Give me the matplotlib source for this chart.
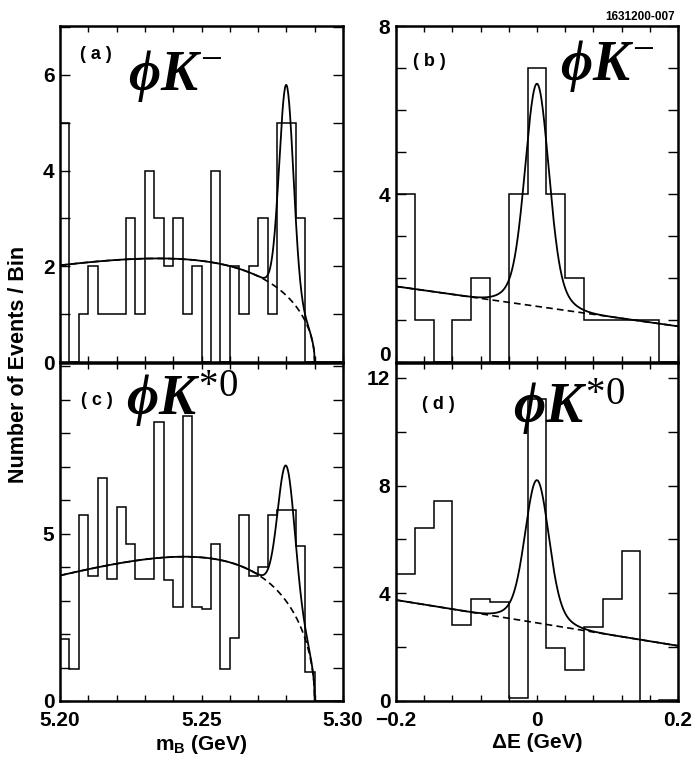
import numpy as np
import matplotlib
matplotlib.use("Agg")
import matplotlib.pyplot as plt
from matplotlib.ticker import MultipleLocator, FixedLocator
from matplotlib.transforms import ScaledTranslation

plt.rcParams['font.family'] = ['Liberation Sans', 'DejaVu Sans']
plt.rcParams['mathtext.fontset'] = 'custom'
plt.rcParams['mathtext.it'] = 'Liberation Serif:italic:bold'
plt.rcParams['mathtext.rm'] = 'Liberation Serif'
plt.rcParams['axes.unicode_minus'] = True

# histogram contents
mb_range = (5.20, 5.30)
de_range = (-0.2, 0.2)
mb_nbins = 30
de_nbins = 15

a_counts = [5, 0, 1, 2, 1, 1, 1, 3, 1, 4, 3, 2, 3, 1, 2, 0, 4, 0, 2, 1,
            2, 3, 1, 5, 5, 3, 0, 0, 0, 0]
b_counts = [4, 1, 0, 1, 2, 0, 4, 7, 4, 2, 1, 1, 1, 1, 0]
c_counts = [1.85, 0.95, 5.55, 3.73, 6.67, 3.65, 5.8, 4.7, 3.65, 3.65,
            8.35, 3.63, 2.82, 8.52, 2.82, 2.75, 4.7, 0.95, 1.87, 5.55,
            3.75, 4.0, 5.55, 5.7, 5.7, 4.62, 0.87, 0, 0, 0]
d_counts = [4.7, 6.44, 7.43, 2.83, 3.78, 3.66, 0.1, 11.2, 1.98, 1.14,
            2.75, 3.78, 5.58, 0, 0.05]

# fit parameters (estimated from the drawn curves)
argus_endpoint = 5.29
a_bg_start, a_argus_c = 2.02, -23.5
a_sig = dict(amp=4.4, mean=5.28, sigma=0.0025)
c_bg_start, c_argus_c = 3.75, -28.3
c_sig = dict(amp=4.05, mean=5.28, sigma=0.0030)
b_bg_ends = (1.80, 0.85)
d_bg_ends = (3.75, 2.05)
de_core = dict(amp=4.5, sigma=0.016)
de_tail = dict(amp=0.8, sigma=0.030)

labels = ['( a )', '( b )', '( c )', '( d )']
modes = [r'$\phi K^{-}$', r'$\phi K^{-}$', r'$\phi K^{*0}$', r'$\phi K^{*0}$']


def argus(m, at_start, c):
    def shape(x):
        z = np.clip(1 - (x / argus_endpoint) ** 2, 0, None)
        return x * np.sqrt(z) * np.exp(c * z)
    return at_start * shape(m) / shape(mb_range[0])


def gauss(x, amp, mean, sigma):
    return amp * np.exp(-0.5 * ((x - mean) / sigma) ** 2)


def line_bg(x, ends):
    return ends[0] + (ends[1] - ends[0]) * (x - de_range[0]) / (de_range[1] - de_range[0])


fig = plt.figure(figsize=(6.96, 7.6), dpi=100)
W, H = 696.0, 760.0
def box(x0, y0, x1, y1):
    return [x0 / W, 1 - y1 / H, (x1 - x0) / W, (y1 - y0) / H]

ax_a = fig.add_axes(box(60, 26, 343, 362))
ax_b = fig.add_axes(box(396, 26, 678, 362))
ax_c = fig.add_axes(box(60, 363, 343, 701))
ax_d = fig.add_axes(box(396, 363, 678, 701))

mb_edges = np.linspace(*mb_range, mb_nbins + 1)
de_edges = np.linspace(*de_range, de_nbins + 1)
mb = np.linspace(mb_range[0], argus_endpoint, 600)
de = np.linspace(*de_range, 600)

dash = (0, (4, 2.5))
for ax, counts, bgs, argc, sig in [(ax_a, a_counts, a_bg_start, a_argus_c, a_sig),
                                   (ax_c, c_counts, c_bg_start, c_argus_c, c_sig)]:
    ax.stairs(counts, mb_edges, color='black', lw=1.1)
    bg = argus(mb, bgs, argc)
    ax.plot(mb, bg, color='black', lw=1.2, ls=dash)
    ax.plot(mb, bg + gauss(mb, **sig), color='black', lw=1.3)
    ax.set_xlim(*mb_range)

for ax, counts, ends in [(ax_b, b_counts, b_bg_ends), (ax_d, d_counts, d_bg_ends)]:
    ax.stairs(counts, de_edges, color='black', lw=1.1)
    bg = line_bg(de, ends)
    sig = gauss(de, de_core['amp'], 0, de_core['sigma']) + gauss(de, de_tail['amp'], 0, de_tail['sigma'])
    ax.plot(de, bg, color='black', lw=1.2, ls=dash)
    ax.plot(de, bg + sig, color='black', lw=1.3)
    ax.set_xlim(*de_range)

ax_a.set_ylim(0, 7.02)
ax_b.set_ylim(0, 8)
ax_c.set_ylim(0, 10.1)
ax_d.set_ylim(0, 12.55)

ax_a.yaxis.set_major_locator(FixedLocator([0, 2, 4, 6]))
ax_a.yaxis.set_minor_locator(MultipleLocator(1))
ax_b.yaxis.set_major_locator(FixedLocator([0, 4, 8]))
ax_b.yaxis.set_minor_locator(MultipleLocator(1))
ax_c.yaxis.set_major_locator(FixedLocator([0, 5]))
ax_c.yaxis.set_minor_locator(MultipleLocator(1))
ax_d.yaxis.set_major_locator(FixedLocator([0, 4, 8, 12]))
ax_d.yaxis.set_minor_locator(MultipleLocator(2))

for ax in (ax_a, ax_c):
    ax.xaxis.set_major_locator(FixedLocator([5.20, 5.25, 5.30]))
    ax.xaxis.set_minor_locator(MultipleLocator(0.01))
for ax in (ax_b, ax_d):
    ax.xaxis.set_major_locator(FixedLocator([-0.2, 0, 0.2]))
    ax.xaxis.set_minor_locator(MultipleLocator(0.04))

ax_c.set_xticklabels(['5.20', '5.25', '5.30'])
ax_d.set_xticklabels(['\u22120.2', '0', '0.2'])
ax_a.tick_params(axis='x', labelbottom=False)
ax_b.tick_params(axis='x', labelbottom=False)

for ax in (ax_a, ax_b, ax_c, ax_d):
    for s in ax.spines.values():
        s.set_linewidth(1.8)
    ax.tick_params(which='both', direction='in', top=True, right=True,
                   width=1.0, labelsize=15)
    ax.tick_params(axis='x', which='both', length=4, pad=7)
    ax.tick_params(axis='y', which='both', length=7, pad=4)
    for t in ax.get_xticklabels() + ax.get_yticklabels():
        t.set_fontweight('bold')

# the "0" of panel (b) sits a little above its tick, clear of the "12" below
zero_b = ax_b.get_yticklabels()[0]
zero_b.set_transform(zero_b.get_transform() + ScaledTranslation(0, 6 / 72, fig.dpi_scale_trans))

ax_c.set_xlabel(r'm$_\mathregular{B}$ (GeV)', fontsize=15, fontweight='bold', labelpad=2)
ax_d.set_xlabel('\u0394E (GeV)', fontsize=15, fontweight='bold', labelpad=2)

fig.text(0.026, 0.52, 'Number of Events / Bin', rotation=90, ha='center',
         va='center', fontsize=15.5, fontweight='bold')
fig.text(675 / W, 1 - 17 / H, '1631200-007', ha='right', va='center',
         fontsize=8.5, fontweight='bold')

label_pos = [(0.07, 0.914), (0.06, 0.893), (0.075, 0.89), (0.092, 0.876)]
mode_pos = [(0.24, 0.81), (0.58, 0.84), (0.234, 0.846), (0.415, 0.822)]
for ax, lab, lp, mode, mp in zip((ax_a, ax_b, ax_c, ax_d), labels, label_pos, modes, mode_pos):
    ax.text(lp[0], lp[1], lab, transform=ax.transAxes, ha='left', va='center',
            fontsize=13, fontweight='bold')
    ax.text(mp[0], mp[1], mode, transform=ax.transAxes, ha='left', va='baseline',
            fontsize=40, zorder=5)

fig.savefig('out.png', dpi=100)
